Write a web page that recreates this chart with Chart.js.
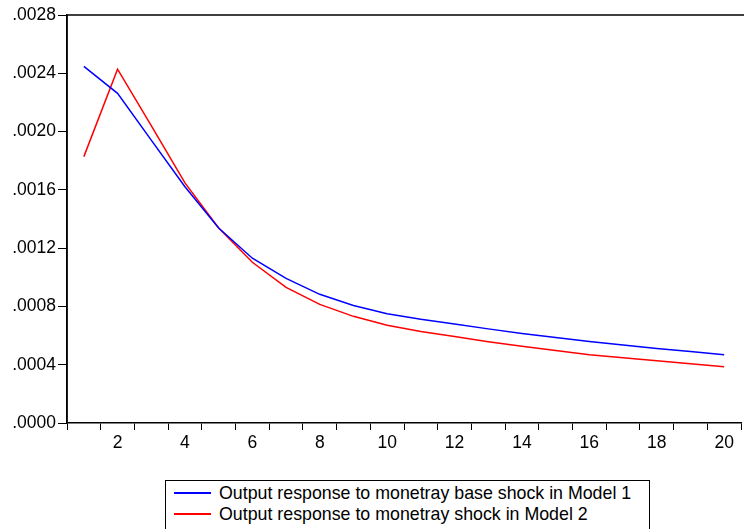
<!DOCTYPE html>
<html>
<head>
<meta charset="utf-8">
<script src="https://cdn.jsdelivr.net/npm/chart.js@4/dist/chart.umd.min.js"></script>
<style>
  body { margin:0; background:#fff; }
  #wrap { position:relative; width:744px; height:529px; overflow:hidden; }
  #chart { position:absolute; left:0; top:0; }
  #legend {
    position:absolute; left:165px; top:480px; width:485px; height:60px;
    border:1px solid #000; box-sizing:border-box;
    font-family:"Liberation Sans", Arial, sans-serif; font-size:17.8px; color:#000;
    padding-top:2px;
  }
  .item { height:20.5px; line-height:20.5px; white-space:nowrap; }
  .swatch { display:inline-block; width:37px; height:2px; vertical-align:middle; margin-left:8px; margin-right:8px; position:relative; top:-1px; }
</style>
</head>
<body>
<div id="wrap">
  <canvas id="chart" width="744" height="470"></canvas>
  <div id="legend"></div>
</div>
<script>
// Sample data
const periods = ['1','2','3','4','5','6','7','8','9','10','11','12','13','14','15','16','17','18','19','20'];
const model1 = [0.002448, 0.002262, 0.001941, 0.001621, 0.001338, 0.001131, 0.000993, 0.000883, 0.000806, 0.000750,
                0.000712, 0.000680, 0.000646, 0.000615, 0.000586, 0.000559, 0.000535, 0.000512, 0.000490, 0.000469];
const model2 = [0.001828, 0.002428, 0.002041, 0.001648, 0.001338, 0.001103, 0.000931, 0.000814, 0.000732, 0.000671,
                0.000628, 0.000593, 0.000558, 0.000527, 0.000497, 0.000469, 0.000448, 0.000428, 0.000407, 0.000386];
const seriesNames = ['Output response to monetray base shock in Model 1', 'Output response to monetray shock in Model 2'];
const seriesColors = ['#0000ff', '#ff0000'];
const yTicks = [0, 0.0004, 0.0008, 0.0012, 0.0016, 0.0020, 0.0024, 0.0028];

const font = { family: '"Liberation Sans", Arial, sans-serif', size: 17.5 };

// frame: top and left lines
const framePlugin = {
  id: 'frame',
  afterDraw(chart){
    const {ctx, chartArea:a} = chart;
    ctx.save();
    ctx.strokeStyle = '#000';
    ctx.lineWidth = 1.5;
    ctx.beginPath();
    ctx.moveTo(a.left, a.bottom);
    ctx.lineTo(a.left, a.top);
    ctx.lineTo(744, a.top);
    ctx.stroke();
    ctx.restore();
  }
};

new Chart(document.getElementById('chart').getContext('2d'), {
  type: 'line',
  data: {
    labels: periods,
    datasets: [
      { label: seriesNames[0], data: model1, borderColor: seriesColors[0], borderWidth: 1.5, pointRadius: 0, tension: 0, fill: false },
      { label: seriesNames[1], data: model2, borderColor: seriesColors[1], borderWidth: 1.5, pointRadius: 0, tension: 0, fill: false }
    ]
  },
  options: {
    responsive: false,
    animation: false,
    layout: { padding: { top: 15, right: 3, left: 0, bottom: 0 } },
    plugins: { legend: { display: false }, tooltip: { enabled: false } },
    scales: {
      x: {
        offset: true,
        grid: { offset: true, drawOnChartArea: false, color: '#000', tickLength: 7, tickWidth: 1 },
        border: { color: '#000', width: 1.5 },
        ticks: {
          color: '#000', font: font, maxRotation: 0, autoSkip: false, padding: 3,
          callback: function(v, i){ return (i % 2 === 1) ? periods[i] : ''; }
        },
        afterFit(scale){ scale.height = 47; }
      },
      y: {
        min: 0, max: 0.0028,
        afterBuildTicks(scale){ scale.ticks = yTicks.map(v => ({value: v})); },
        grid: { drawOnChartArea: false, color: '#000', tickLength: 9, tickWidth: 1 },
        border: { color: '#000', width: 1.5 },
        ticks: {
          color: '#000', font: font, padding: 2,
          callback: v => v.toFixed(4).replace(/^0/, '')
        },
        afterFit(scale){ scale.width = 67; }
      }
    }
  },
  plugins: [framePlugin]
});

// legend
document.getElementById('legend').innerHTML = seriesNames.map((n, i) =>
  `<div class="item"><span class="swatch" style="background:${seriesColors[i]}"></span>${n}</div>`
).join('');
</script>
</body>
</html>
